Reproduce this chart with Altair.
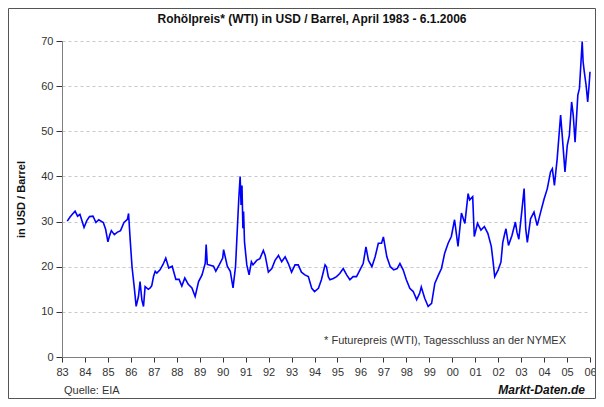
import altair as alt
import pandas as pd

# Decimal year and WTI price (USD / barrel)
years = [
    1983.23, 1983.35, 1983.45, 1983.57, 1983.68, 1983.78, 1983.88, 1983.96,
    1984.08, 1984.20, 1984.35, 1984.48, 1984.60, 1984.80, 1984.90,
    1985.00, 1985.08, 1985.15, 1985.28, 1985.40, 1985.55, 1985.70, 1985.85, 1985.90,
    1985.97, 1986.05, 1986.15, 1986.23, 1986.33, 1986.40, 1986.48, 1986.55, 1986.62,
    1986.76, 1986.84, 1986.91, 1986.99,
    1987.06, 1987.13, 1987.27, 1987.40, 1987.52, 1987.65, 1987.80, 1987.96,
    1988.10, 1988.22, 1988.35, 1988.50, 1988.66, 1988.80, 1988.95,
    1989.10, 1989.24, 1989.28, 1989.33, 1989.60, 1989.70, 1989.86,
    1990.00, 1990.04, 1990.20, 1990.33, 1990.45, 1990.56, 1990.63, 1990.70,
    1990.76, 1990.80, 1990.84, 1990.88, 1990.91, 1990.95,
    1991.05, 1991.15, 1991.25, 1991.32, 1991.48, 1991.62, 1991.77, 1991.85, 1991.99,
    1992.14, 1992.28, 1992.43, 1992.57, 1992.72, 1992.86,
    1993.00, 1993.15, 1993.29, 1993.43, 1993.58, 1993.73, 1993.88,
    1994.00, 1994.17, 1994.30, 1994.46, 1994.52, 1994.60, 1994.67, 1994.82, 1994.96,
    1995.10, 1995.25, 1995.40, 1995.54, 1995.68, 1995.83, 1995.98,
    1996.12, 1996.24, 1996.35, 1996.50, 1996.64, 1996.78, 1996.92,
    1997.00, 1997.15, 1997.30, 1997.45, 1997.60, 1997.72, 1997.86,
    1998.00, 1998.15, 1998.30, 1998.45, 1998.58, 1998.65, 1998.80, 1998.95,
    1999.10, 1999.24, 1999.40, 1999.53, 1999.67, 1999.82, 1999.96,
    2000.10, 2000.25, 2000.40, 2000.55, 2000.69, 2000.76, 2000.89, 2000.96,
    2001.10, 2001.25, 2001.40, 2001.55, 2001.70, 2001.77, 2001.85,
    2002.00, 2002.12, 2002.20, 2002.29, 2002.34, 2002.45, 2002.60, 2002.75, 2002.82, 2002.90,
    2003.04, 2003.13, 2003.20, 2003.27, 2003.41, 2003.56, 2003.70, 2003.85,
    2004.00, 2004.14, 2004.28, 2004.36, 2004.45, 2004.57, 2004.72, 2004.79, 2004.91,
    2005.01, 2005.10, 2005.20, 2005.27, 2005.35, 2005.47, 2005.54, 2005.66, 2005.70,
    2005.75, 2005.83, 2005.90, 2005.96, 2006.00,
]
prices = [
    30.1, 31.0, 31.6, 32.3, 31.2, 31.6, 30.0, 28.7,
    30.2, 31.1, 31.2, 29.8, 30.4, 29.8, 28.3,
    25.5, 27.0, 28.0, 27.1, 27.6, 28.0, 29.8, 30.5, 31.8,
    26.0, 20.0, 15.3, 11.2, 13.4, 16.7, 12.6, 11.2, 15.6,
    15.0, 15.3, 15.8, 17.9,
    19.0, 18.6, 19.3, 20.5, 21.9, 19.7, 20.1, 17.2,
    17.2, 15.7, 17.5, 16.1, 15.3, 13.4, 16.7,
    18.2, 20.8, 24.9, 20.5, 20.1, 19.0, 20.5,
    21.9, 23.8, 20.1, 19.0, 15.3, 20.1, 27.6, 35.0,
    40.0, 33.7, 38.0, 28.5, 32.2, 25.5,
    20.4, 18.2, 21.1, 20.4, 21.4, 21.8, 23.6, 22.5, 18.8,
    19.6, 21.4, 22.5, 21.1, 22.2, 20.7,
    18.8, 20.4, 20.4, 18.8, 18.2, 17.8, 15.2,
    14.5, 15.2, 17.1, 20.4, 20.0, 17.8, 17.1, 17.4, 17.8,
    18.5, 19.6, 18.2, 17.1, 17.8, 17.8, 19.3,
    20.7, 24.4, 21.4, 20.0, 22.2, 25.2, 25.2,
    26.6, 22.2, 20.0, 19.3, 19.6, 20.7, 19.3,
    17.1, 15.2, 14.5, 12.7, 14.1, 15.5, 13.0, 11.2,
    11.9, 16.3, 18.2, 19.6, 23.0, 25.2, 26.7,
    30.4, 24.5, 31.9, 29.6, 36.2, 34.8, 35.5, 26.7,
    29.6, 28.1, 28.9, 27.4, 24.5, 21.5, 17.8,
    19.3, 21.0, 25.4, 27.4, 28.4, 24.7, 26.9, 29.9, 27.6, 26.1,
    32.8, 37.3, 28.4, 25.4, 30.6, 32.1, 29.1, 32.1,
    35.0, 37.3, 41.0, 41.7, 38.0, 43.9, 53.6, 49.1, 41.0,
    46.9, 49.1, 56.5, 53.6, 47.6, 58.0, 59.5, 69.9, 65.4,
    63.2, 60.2, 56.5, 60.2, 63.2,
]
tick_years = list(range(1983, 2007))
y_ticks = [0, 10, 20, 30, 40, 50, 60, 70]

title_text = "Rohölpreis* (WTI) in USD / Barrel, April 1983 - 6.1.2006"
note_text = "* Futurepreis (WTI), Tagesschluss an der NYMEX"
source_text = "Quelle: EIA"
brand_text = "Markt-Daten.de"

df = pd.DataFrame({"year": years, "price": prices})
FONT = "Liberation Sans"
W, H = 528, 316

line = alt.Chart(df).mark_line(color="#0000ff", strokeWidth=1.6).encode(
    x=alt.X("year:Q",
            scale=alt.Scale(domain=[1983, 2006], nice=False, zero=False),
            axis=alt.Axis(values=tick_years, title=None, grid=False,
                          labelExpr="substring(toString(datum.value), 2)",
                          labelOverlap=False, labelFlush=False,
                          tickSize=5, tickColor="#333333", domainColor="#808080",
                          labelColor="#333333", labelFont=FONT, labelFontSize=11,
                          labelPadding=4)),
    y=alt.Y("price:Q",
            scale=alt.Scale(domain=[0, 70], nice=False),
            axis=alt.Axis(values=y_ticks, title="in USD / Barrel", grid=True,
                          gridDash=[3, 3], gridColor="#c8c8c8",
                          tickSize=6, tickColor="#333333", domainColor="#808080",
                          labelColor="#333333", labelFont=FONT, labelFontSize=11,
                          labelPadding=3, titleFont=FONT, titleFontSize=11,
                          titleFontWeight="bold", titleColor="#111111",
                          titlePadding=14)),
)

one = pd.DataFrame({"k": [0]})

title = alt.Chart(one).mark_text(
    text=title_text, font=FONT, fontSize=12, fontWeight="bold", color="#111111",
    align="center", baseline="middle"
).encode(x=alt.value(250), y=alt.value(-22))

note = alt.Chart(one).mark_text(
    text=note_text, font=FONT, fontSize=11, color="#333333",
    align="right", baseline="middle"
).encode(x=alt.value(504), y=alt.value(300))

source = alt.Chart(one).mark_text(
    text=source_text, font=FONT, fontSize=11, color="#333333",
    align="left", baseline="alphabetic"
).encode(x=alt.value(2), y=alt.value(353))

brand = alt.Chart(one).mark_text(
    text=brand_text, font=FONT, fontSize=12, fontWeight="bold", fontStyle="italic",
    color="#111111", align="right", baseline="alphabetic"
).encode(x=alt.value(523), y=alt.value(353))

frame = alt.Chart(one).mark_rect(
    fill=None, stroke="#555555", strokeWidth=1
).encode(x=alt.value(-53.5), x2=alt.value(533.5), y=alt.value(-32.5), y2=alt.value(357.5))

chart = alt.layer(line, title, note, source, brand, frame).properties(
    width=W, height=H,
    autosize=alt.AutoSizeParams(type="none"),
    padding={"left": 54, "top": 33, "right": 6, "bottom": 42},
    background="white",
).configure_view(stroke=None)

chart.save("out.html", embed_options={"renderer": "svg", "actions": False})
